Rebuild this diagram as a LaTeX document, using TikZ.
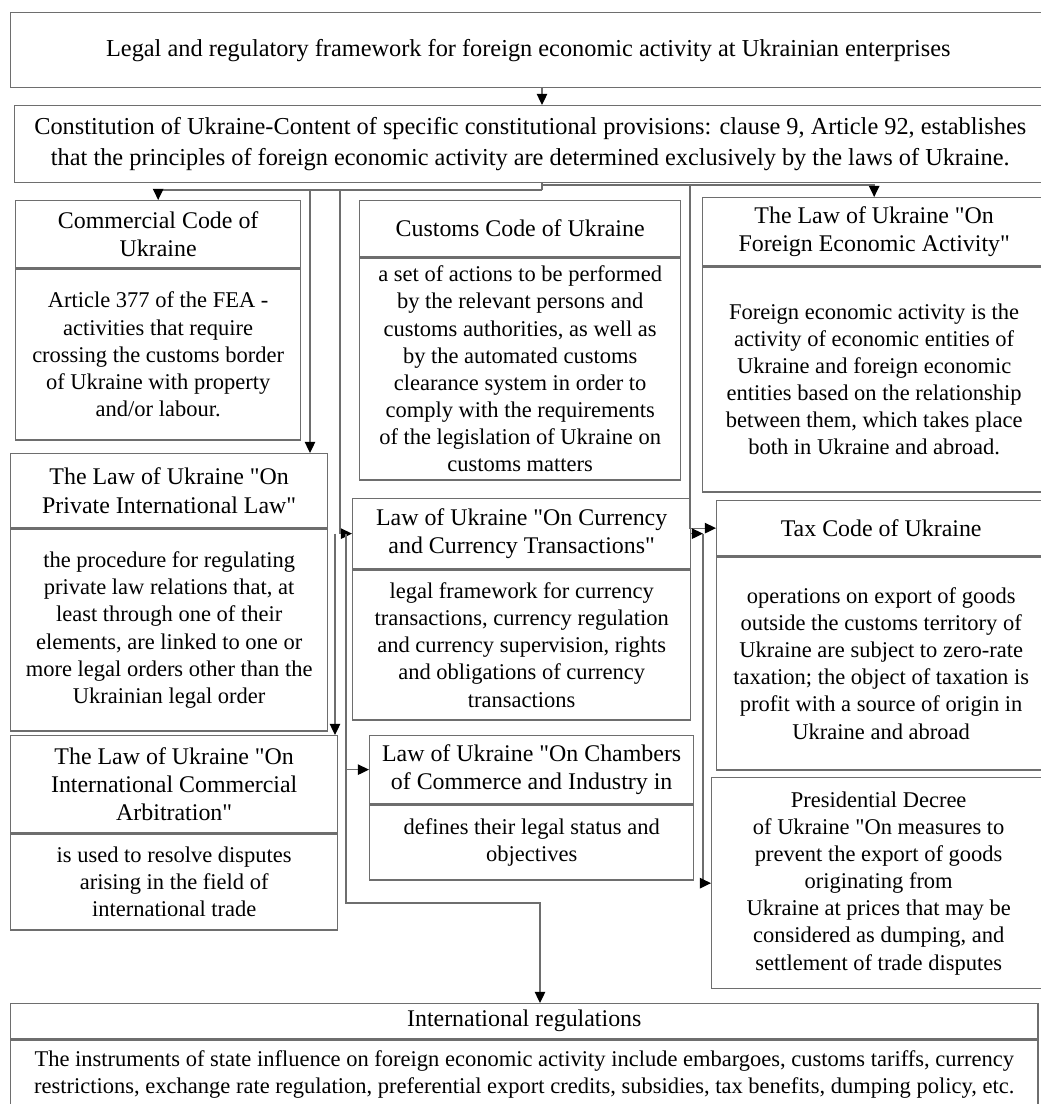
\documentclass[tikz,border=0pt]{standalone}
\usepackage{fontspec}
\setmainfont{Liberation Serif}
\usetikzlibrary{arrows.meta, positioning}
\definecolor{BoxGray}{HTML}{6E6E6E}
\newcommand{\qt}{\textquotedbl}

\begin{document}
\begin{tikzpicture}[
  x=0.025cm, y=-0.025cm,
  box/.style={rectangle, draw=BoxGray, line width=0.9pt, align=center, inner sep=2pt, anchor=north west},
  head/.style={box, font=\fontsize{17}{20}\selectfont},
  body/.style={box, font=\fontsize{16}{19.3}\selectfont},
  link/.style={draw=BoxGray, line width=0.9pt},
  arrow/.style={link, -{Triangle[length=8pt, width=7.5pt, black]}}
]
\useasboundingbox (0,0) rectangle (1040,1104);

\node[head, font=\fontsize{17.3}{22}\selectfont, minimum width=25.875cm, minimum height=1.875cm] (top) at (10,12)
  {Legal and regulatory framework for foreign economic activity at Ukrainian enterprises};

\node[head, font=\fontsize{17.3}{22}\selectfont, minimum width=25.775cm, minimum height=1.925cm] (const) at (14,105)
  {Constitution of Ukraine-Content of specific constitutional provisions: clause 9, Article 92, establishes\\
   that the principles of foreign economic activity are determined exclusively by the laws of Ukraine.};

% left column
\node[head, minimum width=7.125cm, minimum height=1.675cm] (cch) at (15,200)
  {Commercial Code of\\Ukraine};
\node[body, minimum width=7.125cm, minimum height=4.275cm, below=0pt of cch] (ccb)
  {Article 377 of the FEA -\\activities that require\\crossing the customs border\\of Ukraine with property\\and/or labour.};

\node[head, minimum width=7.925cm, minimum height=1.85cm] (pilh) at (10,453)
  {The Law of Ukraine \qt On\\Private International Law\qt};
\node[body, minimum width=7.925cm, minimum height=5.05cm, below=0pt of pilh] (pilb)
  {the procedure for regulating\\private law relations that, at\\least through one of their\\elements, are linked to one or\\more legal orders other than the\\Ukrainian legal order};

\node[head, minimum width=8.175cm, minimum height=2.425cm] (arbh) at (10,735)
  {The Law of Ukraine \qt On\\International Commercial\\Arbitration\qt};
\node[body, minimum width=8.175cm, minimum height=2.4cm, below=0pt of arbh] (arbb)
  {is used to resolve disputes\\arising in the field of\\international trade};

% middle column
\node[head, minimum width=8.025cm, minimum height=1.4cm] (custh) at (359,200)
  {Customs Code of Ukraine};
\node[body, minimum width=8.025cm, minimum height=5.55cm, inner ysep=0pt, below=0pt of custh] (custb)
  {a set of actions to be performed\\by the relevant persons and\\customs authorities, as well as\\by the automated customs\\clearance system in order to\\comply with the requirements\\of the legislation of Ukraine on\\customs matters};

\node[head, minimum width=8.45cm, minimum height=1.75cm] (curh) at (352,498)
  {Law of Ukraine \qt On Currency\\and Currency Transactions\qt};
\node[body, minimum width=8.45cm, minimum height=3.75cm, below=0pt of curh] (curb)
  {legal framework for currency\\transactions, currency regulation\\and currency supervision, rights\\and obligations of currency\\transactions};

\node[head, minimum width=8.1cm, minimum height=1.7cm] (chah) at (369,735)
  {Law of Ukraine \qt On Chambers\\of Commerce and Industry in};
\node[body, minimum width=8.1cm, minimum height=1.875cm, below=0pt of chah] (chab)
  {defines their legal status and\\objectives};

% right column
\node[head, minimum width=8.575cm, minimum height=1.7cm] (feah) at (702,197)
  {The Law of Ukraine \qt On\\Foreign Economic Activity\qt};
\node[body, minimum width=8.575cm, minimum height=5.625cm, below=0pt of feah] (feab)
  {Foreign economic activity is the\\activity of economic entities of\\Ukraine and foreign economic\\entities based on the relationship\\between them, which takes place\\both in Ukraine and abroad.};

\node[head, minimum width=8.225cm, minimum height=1.375cm] (taxh) at (716,500)
  {Tax Code of Ukraine};
\node[body, minimum width=8.225cm, minimum height=5.325cm, below=0pt of taxh] (taxb)
  {operations on export of goods\\outside the customs territory of\\Ukraine are subject to zero-rate\\taxation; the object of taxation is\\profit with a source of origin in\\Ukraine and abroad};

\node[body, minimum width=8.35cm, minimum height=5.275cm] (dec) at (711,777)
  {Presidential Decree\\of Ukraine \qt On measures to\\prevent the export of goods\\originating from\\Ukraine at prices that may be\\considered as dumping, and\\settlement of trade disputes};

% bottom
\node[head, minimum width=25.675cm, minimum height=0.875cm, inner ysep=0pt] (intlh) at (10,1003)
  {International regulations};
\node[body, minimum width=25.675cm, minimum height=1.75cm, below=0pt of intlh] (intlb)
  {The instruments of state influence on foreign economic activity include embargoes, customs tariffs, currency\\
   restrictions, exchange rate regulation, preferential export credits, subsidies, tax benefits, dumping policy, etc.};

% branch points
\coordinate (jc) at (542,190);
\coordinate (jr) at (542,185);
\coordinate (lp) at (310,190);
\coordinate (lc) at (340,190);
\coordinate (la) at (335,0);
\coordinate (lb) at (346,0);
\coordinate (lr) at (540,903);
\coordinate (rt) at (690,185);
\coordinate (rd) at (703,0);

\draw[arrow] (top.south -| jc) -- (const.north -| jc);
\draw[link] (const.south -| jc) -- (jc);
\draw[arrow] (jc) -| (cch.north);
\draw[arrow] (lp) -- (pilh.north -| lp);
\draw[arrow] (lc) |- (curh.west);
\draw[arrow] (la |- curh.west) -- (arbh.north -| la);
\draw[arrow] (lb |- curh.west) |- (chah.west);
\draw[arrow] (lb |- chah.west) |- (lr) -- (intlh.north -| lr);
\draw[arrow] (jr) -| (feah.north);
\draw[arrow] (rt) |- (taxh.west);
\draw[arrow] (curh.east) -- (curh.east -| rd);
\draw[arrow] (curh.east -| rd) |- (dec.west);
\end{tikzpicture}
\end{document}
